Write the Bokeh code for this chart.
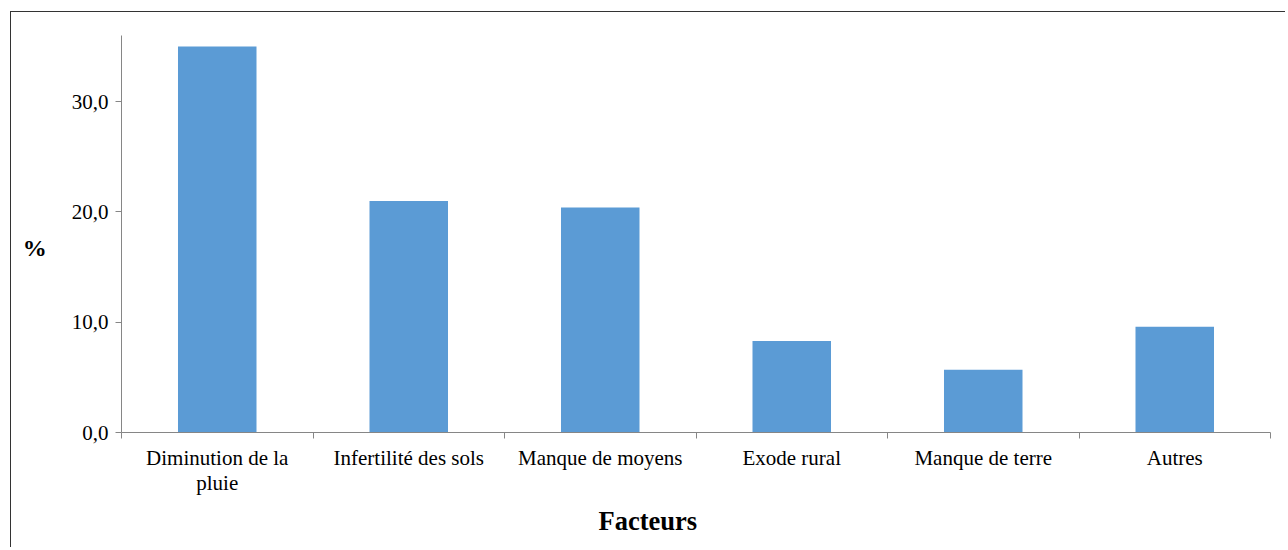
from bokeh.plotting import figure
from bokeh.models import Range1d, LinearAxis, FixedTicker, Title, ColumnDataSource
from bokeh.embed import file_html
from bokeh.resources import INLINE

# ---- data ----
categories = ["Diminution de la\npluie", "Infertilité des sols", "Manque de moyens",
              "Exode rural", "Manque de terre", "Autres"]
values = [35.0, 21.0, 20.4, 8.3, 5.7, 9.6]
y_ticks = [0, 10, 20, 30]
y_tick_labels = ["0,0", "10,0", "20,0", "30,0"]
x_title = "Facteurs"
y_title = "%"

FONT = "Liberation Serif"
AXIS_COLOR = "#868686"
BAR_COLOR = "#5B9BD5"

n = len(categories)
centers = [i + 0.5 for i in range(n)]

p = figure(width=1275, height=536, output_backend="svg", toolbar_location=None,
           x_range=Range1d(0, n), y_range=Range1d(0, 36),
           x_axis_location=None, y_axis_location=None,
           min_border_left=110, min_border_right=16, min_border_top=23, min_border_bottom=116)
p.margin = (11, 0, 0, 10)
p.styles = {"border-top": "1px solid #333333", "border-left": "1px solid #333333"}
p.outline_line_color = None
p.xgrid.visible = False
p.ygrid.visible = False
p.background_fill_color = "white"
p.border_fill_color = "white"

src = ColumnDataSource(dict(x=centers, top=values))
p.vbar(x="x", top="top", width=0.41, source=src, fill_color=BAR_COLOR, line_color=None)

# y axis
yax = LinearAxis(ticker=FixedTicker(ticks=y_ticks, minor_ticks=[]))
yax.major_label_overrides = {t: l for t, l in zip(y_ticks, y_tick_labels)}
yax.axis_line_color = AXIS_COLOR
yax.major_tick_line_color = AXIS_COLOR
yax.major_tick_in = 0
yax.major_tick_out = 6
yax.minor_tick_line_color = None
yax.major_label_text_font = FONT
yax.major_label_text_font_size = "21px"
yax.major_label_text_color = "black"
yax.major_label_standoff = 7
yax.axis_label = "\n" + y_title
yax.axis_label_orientation = "horizontal"
yax.axis_label_text_font = FONT
yax.axis_label_text_font_size = "24px"
yax.axis_label_text_font_style = "bold"
yax.axis_label_text_line_height = 1.1
yax.axis_label_text_color = "black"
yax.axis_label_standoff = 22
p.add_layout(yax, "left")

# x axis: boundary ticks
xax1 = LinearAxis(ticker=FixedTicker(ticks=list(range(n + 1)), minor_ticks=[]))
xax1.axis_line_color = AXIS_COLOR
xax1.major_tick_line_color = AXIS_COLOR
xax1.major_tick_in = 0
xax1.major_tick_out = 6
xax1.minor_tick_line_color = None
xax1.major_label_text_font_size = "0px"
xax1.major_label_standoff = 0
xax1.major_label_overrides = {i: "" for i in range(n + 1)}
p.add_layout(xax1, "below")

# x axis: category labels
xax2 = LinearAxis(ticker=FixedTicker(ticks=centers, minor_ticks=[]))
xax2.major_label_overrides = {c: lab for c, lab in zip(centers, categories)}
xax2.axis_line_color = None
xax2.major_tick_line_color = None
xax2.minor_tick_line_color = None
xax2.major_label_text_font = FONT
xax2.major_label_text_font_size = "21px"
xax2.major_label_text_line_height = 1.08
xax2.major_label_text_color = "black"
xax2.major_label_standoff = 1
p.add_layout(xax2, "below")

t = Title(text=x_title, align="left", offset=477, text_font=FONT, text_font_size="26.5px",
          text_font_style="bold", text_color="black")
p.add_layout(t, "below")

open("out.html", "w").write(file_html(p, INLINE))
